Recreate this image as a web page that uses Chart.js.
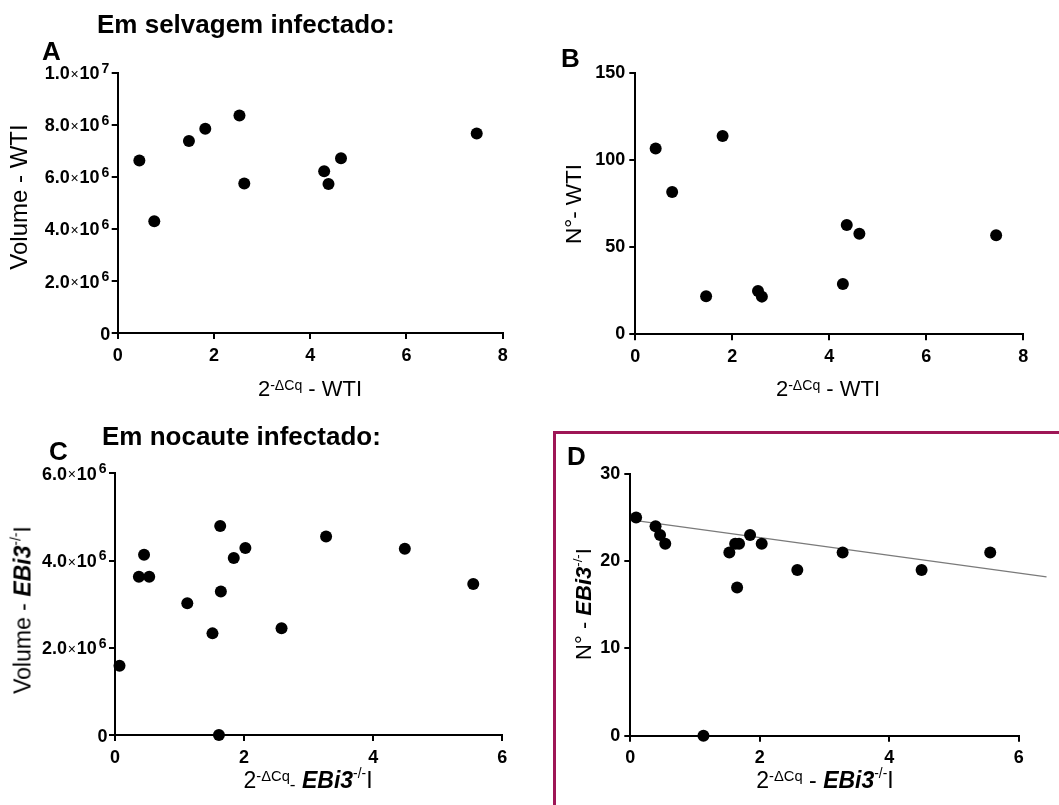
<!DOCTYPE html>
<html>
<head>
<meta charset="utf-8">
<script src="https://cdn.jsdelivr.net/npm/chart.js@4.4.1/dist/chart.umd.min.js"></script>
<style>
  html, body { margin:0; padding:0; background:#fff; }
  #page { position:relative; width:1059px; height:805px; overflow:hidden; background:#fff; font-family:"Liberation Sans", Arial, sans-serif; color:#000; }
  canvas { position:absolute; }
  .t { position:absolute; white-space:nowrap; line-height:1; }
  .head { font-weight:bold; font-size:26px; }
  .let { font-weight:bold; font-size:26px; }
  .ax { font-size:22px; }
  .ax23 { font-size:23px; }
  .rot { transform:translate(-50%,-50%) rotate(-90deg); }
  .ctr { transform:translateX(-50%); }
  .sup { font-size:0.64em; position:relative; top:-0.42em; }
  .sup2 { font-size:0.6em; position:relative; top:-0.72em; }
  .sub { font-size:0.75em; position:relative; top:0.15em; }
  .bi { font-weight:bold; font-style:italic; }
  #frameD { position:absolute; left:553px; top:431px; width:600px; height:500px; border-top:3px solid #9e1656; border-left:3px solid #9e1656; }
</style>
</head>
<body>
<div id="page">
  <div id="frameD"></div>
  <canvas id="cA" width="530" height="400" style="left:0;top:0"></canvas>
  <canvas id="cB" width="529" height="400" style="left:530px;top:0"></canvas>
  <canvas id="cC" width="530" height="405" style="left:0;top:400px"></canvas>
  <canvas id="cD" width="529" height="405" style="left:530px;top:400px"></canvas>

  <div class="t head" style="left:97px;top:10.5px">Em selvagem infectado:</div>
  <div class="t head" style="left:102px;top:423px">Em nocaute infectado:</div>
  <div class="t let" style="left:42px;top:38px">A</div>
  <div class="t let" style="left:561px;top:45px">B</div>
  <div class="t let" style="left:49px;top:438px">C</div>
  <div class="t let" style="left:567px;top:443px">D</div>

  <div class="t ax ctr" style="left:310px;top:378px">2<span class="sup">-ΔCq</span> - WTI</div>
  <div class="t ax ctr" style="left:828px;top:378px">2<span class="sup">-ΔCq</span> - WTI</div>
  <div class="t ax23 ctr" style="left:308px;top:768.5px">2<span class="sup">-ΔCq</span><span class="sub">-</span> <span class="bi">EBi3</span><span class="sup2">-/-</span>I</div>
  <div class="t ax23 ctr" style="left:825px;top:768.5px">2<span class="sup">-ΔCq</span> - <span class="bi">EBi3</span><span class="sup2">-/-</span>I</div>

  <div class="t rot" style="left:19px;top:196.5px;font-size:24px">Volume - WTI</div>
  <div class="t rot" style="left:574px;top:203.5px;font-size:22.5px">N°- WTI</div>
  <div class="t rot" style="left:23px;top:610px;font-size:23px">Volume - <span class="bi">EBi3</span><span class="sup2">-/-</span>I</div>
  <div class="t rot" style="left:584px;top:603.5px;font-size:22px">N° - <span class="bi">EBi3</span><span class="sup2">-/-</span>I</div>
</div>
<script>
// ---------- data ----------
const aX = [0.45, 0.76, 1.48, 1.82, 2.53, 2.63, 4.29, 4.38, 4.64, 7.46];
const aY = [6.63e6, 4.29e6, 7.38e6, 7.85e6, 8.36e6, 5.74e6, 6.21e6, 5.72e6, 6.71e6, 7.66e6];

const bX = [0.42, 0.76, 1.80, 1.46, 2.53, 2.61, 4.28, 4.36, 4.62, 7.44];
const bY = [106.6, 81.6, 113.7, 21.8, 24.8, 21.6, 28.9, 62.7, 57.7, 56.8];

const cX = [0.07, 0.37, 0.53, 0.45, 1.12, 1.51, 1.63, 1.64, 1.61, 1.84, 2.02, 2.58, 3.27, 4.49, 5.55];
const cY = [1.59e6, 3.63e6, 3.63e6, 4.13e6, 3.02e6, 2.33e6, 4.79e6, 3.29e6, 0, 4.06e6, 4.29e6, 2.45e6, 4.55e6, 4.27e6, 3.46e6];

const dX = [0.09, 0.39, 0.46, 0.54, 1.53, 1.62, 1.68, 1.65, 1.85, 2.03, 2.58, 3.28, 4.50, 5.56, 1.13];
const dY = [25, 24, 23, 22, 21, 22, 22, 17, 23, 22, 19, 21, 19, 21, 0];

const dTrendX = [0.09, 6.43];
const dTrendY = [24.65, 18.2];

// axis ranges: [min, max, step]
const xRangeWT = [0, 8, 2];
const xRangeKO = [0, 6, 2];
const aYRange = [0, 1e7, 2e6];
const bYRange = [0, 150, 50];
const cYRange = [0, 6e6, 2e6];
const dYRange = [0, 30, 10];

// ---------- helpers ----------
const FONT = '"Liberation Sans", Arial, sans-serif';
const pts = (xs, ys) => xs.map((x, i) => ({ x, y: ys[i] }));

function sciParts(v) {
  if (v === 0) return null;
  const e = Math.floor(Math.log10(v) + 1e-9);
  const m = v / Math.pow(10, e);
  return { m: m.toFixed(1), e: String(e) };
}

const sciLabels = {
  id: 'sciLabels',
  afterDraw(chart) {
    const sc = chart.scales.y, ctx = chart.ctx;
    const right = chart.chartArea.left - 8.5;
    ctx.save();
    ctx.fillStyle = '#000';
    ctx.textBaseline = 'alphabetic';
    sc.ticks.forEach(t => {
      const y = sc.getPixelForValue(t.value);
      const base = y + 6.6;
      const p = sciParts(t.value);
      if (!p) {
        ctx.font = 'bold 18px ' + FONT;
        ctx.textAlign = 'right';
        ctx.fillText('0', right + 1, base);
        return;
      }
      const fB = 'bold 18px ' + FONT, fX = '14px ' + FONT, fE = 'bold 14px ' + FONT;
      ctx.font = fB; const w1 = ctx.measureText(p.m).width; const w3 = ctx.measureText('10').width;
      ctx.font = fX; const w2 = ctx.measureText('×').width + 1.5;
      ctx.font = fE; const w4 = ctx.measureText(p.e).width;
      let x = right - (w1 + w2 + w3 + w4 + 2);
      ctx.textAlign = 'left';
      ctx.font = fB; ctx.fillText(p.m, x, base); x += w1;
      ctx.font = fX; ctx.fillText('×', x + 0.8, base - 0.5); x += w2;
      ctx.font = fB; ctx.fillText('10', x, base); x += w3 + 2;
      ctx.font = fE; ctx.fillText(p.e, x, base - 6.7);
    });
    ctx.restore();
  }
};

function axis(range, opts) {
  return {
    type: 'linear',
    min: range[0], max: range[1],
    border: { display: true, color: '#000', width: 2 },
    grid: { display: true, drawOnChartArea: false, drawTicks: true, tickLength: 6, color: '#000', lineWidth: 2 },
    ticks: {
      stepSize: range[2], color: '#000', display: opts.showTicks !== false,
      font: { family: FONT, size: 18, weight: 'bold' },
      padding: opts.pad, autoSkip: false, maxRotation: 0
    },
    afterFit: opts.fit
  };
}

function makeChart(id, data, xRange, yRange, lay, sci, extra) {
  const datasets = [{
    data: data,
    backgroundColor: '#000', borderColor: '#000',
    pointRadius: 6, pointHoverRadius: 6, pointBorderWidth: 0,
    clip: false
  }];
  if (extra) datasets.push(extra);
  return new Chart(document.getElementById(id), {
    type: 'scatter',
    data: { datasets },
    options: {
      responsive: false, animation: false,
      layout: { padding: { left: 0, top: lay.top, right: lay.right, bottom: lay.bottom } },
      plugins: { legend: { display: false }, tooltip: { enabled: false } },
      scales: {
        x: axis(xRange, { pad: 6, fit: s => { s.height = 30; } }),
        y: axis(yRange, { pad: 4, showTicks: !sci, fit: s => { s.width = lay.left; } })
      }
    },
    plugins: sci ? [sciLabels] : []
  });
}

makeChart('cA', pts(aX, aY), xRangeWT, aYRange, { left: 117.7, top: 72.7, right: 27.3, bottom: 37 }, true);
makeChart('cB', pts(bX, bY), xRangeWT, bYRange, { left: 105.3, top: 72.7, right: 35.7, bottom: 35.7 }, false);
makeChart('cC', pts(cX, cY), xRangeKO, cYRange, { left: 115, top: 73.3, right: 27.7, bottom: 40 }, true);
makeChart('cD', pts(dX, dY), xRangeKO, dYRange, { left: 100.3, top: 74, right: 40.3, bottom: 39.3 }, false, {
  data: pts(dTrendX, dTrendY),
  showLine: true, borderColor: '#7a7a7a', borderWidth: 1.2,
  pointRadius: 0, pointHoverRadius: 0, clip: false
});
</script>
</body>
</html>
